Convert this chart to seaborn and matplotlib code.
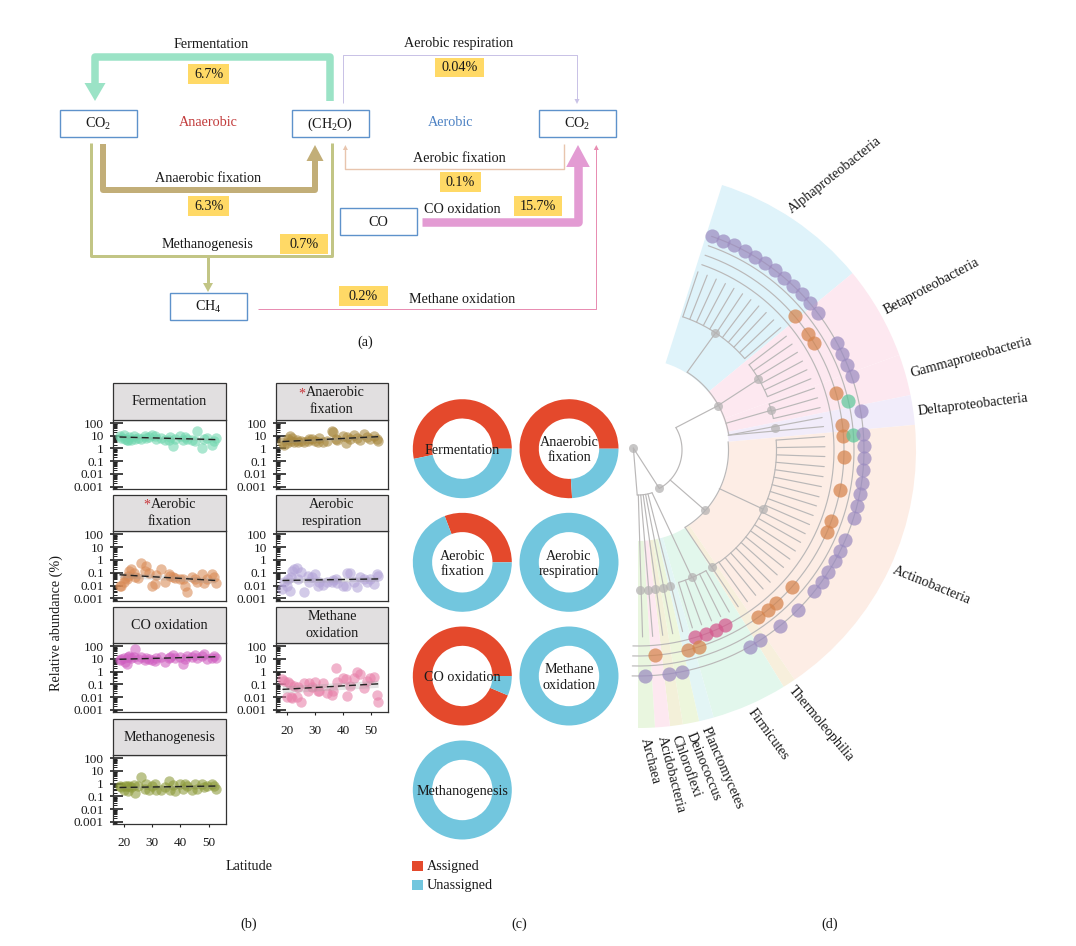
import numpy as np
import pandas as pd
import matplotlib
matplotlib.use("Agg")
import matplotlib.pyplot as plt
from matplotlib.patches import Rectangle
from matplotlib.ticker import FixedLocator, FixedFormatter, LogLocator, NullFormatter
import seaborn as sns

# ---- panel (a) values
flow_names = ["Fermentation", "Aerobic respiration", "Aerobic fixation", "Anaerobic fixation",
              "CO oxidation", "Methanogenesis", "Methane oxidation"]
flow_percent = ["6.7%", "0.04%", "0.1%", "6.3%", "15.7%", "0.7%", "0.2%"]
compounds = ["CO$_2$", "(CH$_2$O)", "CO$_2$", "CO", "CH$_4$"]

# ---- panel (b) values
latitude = [18.5, 19, 20, 20.5, 21, 21.5, 22, 22.5, 23.5, 24, 25, 26, 27.5, 28, 29, 30, 31, 31.5, 33,
            34.5, 36, 36.5, 37.5, 38, 40, 41, 41.5, 42.5, 44, 45, 46, 47.5, 48.5, 49.5, 51, 52, 52.5]
fermentation = [9, 7, 11, 6, 5, 4.5, 8, 5, 9, 6, 7, 6, 10, 7, 8, 12, 9, 6, 7, 5, 5, 8, 1.6, 6, 10, 5,
                8, 6, 5, 4, 22, 1, 6, 7, 2, 4, 7]
anaerobic_fix = [3, 2, 2.5, 6, 10, 4, 7, 3, 5, 3, 4, 3, 4, 6, 6, 4, 3, 7, 3, 4, 22, 18, 6, 5, 9, 2.5,
                 8, 6, 12, 7, 5, 14, 8, 6, 9, 6, 4]
aerobic_fix = [.009, .01, .02, .04, .03, .06, .15, .2, .1, .05, .04, .6, .15, .35, .1, .009, .013, .07,
               .2, .02, .08, .06, .05, .04, .03, .03, .01, .003, .05, .03, .02, .08, .015, .03, .08, .05, .015]
aerobic_resp = [.005, .02, .01, .03, .004, .05, .15, .2, .25, .03, .12, .003, .06, .02, .05, .08, .01,
                .02, .012, .02, .02, .025, .03, .015, .009, .01, .1, .09, .02, .008, .05, .03, .02, .03,
                .013, .08, .06]
co_oxidation = [8, 10, 12, 6, 4, 15, 18, 12, 15, 60, 10, 14, 8, 12, 10, 9, 7, 12, 14, 6, 12, 15, 20, 12,
                15, 4, 10, 18, 14, 22, 12, 16, 25, 10, 12, 18, 12]
methane_ox = [.25, .2, .01, .15, .1, .01, .008, .08, .01, .06, .004, .13, .03, .12, .06, .15, .03, .03,
              .13, .02, .015, .03, 2, .15, .3, .25, .013, .08, .3, 1, .6, .05, .2, .3, .4, .015, .004]
methanogenesis = [.6, .5, .3, .7, .6, .25, .7, .5, .8, .2, .6, 3.5, .4, .9, .3, .7, .9, .3, .3, .5, 1.5,
                  .3, .8, .25, .9, .4, 1, .7, .3, .9, .4, 1, .5, .6, 1, .7, .4]
trend_lat = [18.5, 52.5]
trend_fermentation = [8, 5]
trend_anaerobic = [3.5, 8.5]
trend_aerobic_fix = [.07, .025]
trend_aerobic_resp = [.025, .033]
trend_co = [9.5, 15]
trend_methane_ox = [.04, .11]
trend_methanogenesis = [.5, .65]
y_ticks = [100, 10, 1, 0.1, 0.01, 0.001]
y_tick_labels = ["100", "10", "1", "0.1", "0.01", "0.001"]
x_ticks = [20, 30, 40, 50]

# ---- panel (c) values: percent assigned
donut_names = ["Fermentation", "Anaerobic\nfixation", "Aerobic\nfixation", "Aerobic\nrespiration",
               "CO oxidation", "Methane\noxidation", "Methanogenesis"]
assigned = [53.3, 76, 30.8, 0, 93.6, 0, 0]

# ---- panel (d) values: clades as (start, end) angle in degrees, leaf angles per ring
clade_names = ["Alphaproteobacteria", "Betaproteobacteria", "Gammaproteobacteria", "Deltaproteobacteria",
               "Actinobacteria", "Thermoleophilia", "Firmicutes", "Planctomycetes", "Deinococcus",
               "Chloroflexi", "Acidobacteria", "Archaea"]
clade_from = [72.4, 39.5, 20, 11.4, 5.2, -55.7, -58.4, -74.2, -77.3, -80.7, -83.4, -86.5]
clade_to = [39.5, 20, 11.4, 5.2, -55.7, -58.4, -74.2, -77.3, -80.7, -83.4, -86.5, -90]
purple_leaves = [70.9, 67.9, 64.9, 61.8, 58.8, 55.8, 52.7, 49.7, 46.6, 43.5, 40.5, 37.4, 28.3, 25.2,
                 22.1, 19.1, 10, 4, 1, -2, -5, -8.3, -11.2, -14.3, -17.4, -23.4, -26.5, -29.5, -32.6,
                 -35.6, -38.7, -44.9, -51, -57.3, -60.4, -78.9, -82, -88.3]
orange_leaves = [40.5, 34.4, 31.3, 16.1, 7.1, 4, -2, -11.2, -20.3, -23.5, -41.8, -48, -51, -54.3, -72.8,
                 -75.9, -85.3]
green_leaves = [13.1, 4]
pink_leaves = [-63.5, -66.7, -69.8, -73]
alpha_branches = [71.4, 68.4, 65.4, 62.3, 59.3, 56.2, 53.1, 50, 47, 43.8, 40.6]
beta_branches = [37.5, 34.5, 31.5, 28.4, 25.4, 22.4]
beta2_branches = [19.3, 16.2, 13.1]
delta_branches = [10, 7.2]
actino_branches = [4.1, 1, -2, -5.1, -8.2, -11.3, -14.5, -17.4, -20.5, -23.5, -26.6, -29.6, -32.7, -35.7,
                   -38.9, -41.9, -45, -48, -51, -54.2]
firmi_branches = [-60.6, -63.6, -66.7, -70, -73]
small_branches = [-76.2, -79.3, -82.4, -85.5, -88.6]
inner_node_theta = [29, -42, -61, 158]
inner_node_r = [91, 90, 44, 5]
group_node_theta = [56.5, 30.4, 16.6, 9, -25.3, -57.8, -67.1, -76.7, -79.8, -83, -86, -89.2]
group_node_r = [140, 139.5, 139, 138.7, 138, 138, 138, 140, 140, 140, 140, 140]

sns.set_theme(style="white")
plt.rcParams["font.family"] = "Liberation Serif"
plt.rcParams["mathtext.fontset"] = "custom"
plt.rcParams["mathtext.rm"] = "Liberation Serif"
plt.rcParams["mathtext.default"] = "regular"
TXT = "#1a1a1a"

W, H = 1076, 946
fig = plt.figure(figsize=(W / 100, H / 100), dpi=100)


def px_axes(x0, y0, x1, y1, **kw):
    # axes from pixel box, y counted from the top
    return fig.add_axes([x0 / W, 1 - y1 / H, (x1 - x0) / W, (y1 - y0) / H], **kw)


# ---- panel (d), polar axes with r in pixels
cx, cy, rmax = 638, 450, 290
pol = px_axes(cx - rmax, cy - rmax, cx + rmax, cy + rmax, projection="polar")
pol.set_theta_zero_location("E")
pol.set_ylim(0, rmax)
pol.set_axis_off()

clade_colors = ["#DFF3FA", "#FDE8F0", "#FDE8F0", "#F1ECFA", "#FDEDE5", "#F7EFDC", "#E2F7EC", "#E3F5F5",
                "#EDF6DC", "#F3F0D9", "#FDE8F0", "#E9F6DF"]
for t0, t1, c in zip(clade_from, clade_to, clade_colors):
    pol.bar(np.radians((t0 + t1) / 2), 278 - 91, width=np.radians(t0 - t1), bottom=91, color=c,
            edgecolor="none", linewidth=0, zorder=1)

GR = "#bab8b8"
LW = 0.85


def arc(r, t0, t1):
    th = np.radians(np.linspace(t0, t1, 80))
    pol.plot(th, np.full_like(th, r), color=GR, lw=LW, zorder=2)


def seg(r0, t0, r1, t1):
    pol.plot(np.radians([t0, t1]), [r0, r1], color=GR, lw=LW, zorder=2)


def clade_fan(angles, r0=139, r1=187):
    arc(r0, max(angles), min(angles))
    for t in angles:
        seg(r0, t, r1, t)


# tree skeleton
seg(5, 158, 44, -61)
seg(5, 158, 45, -91)
arc(44, 30.6, -61)
arc(45, -71.8, -91)
seg(44, 30.6, 91, 29)
arc(92, 57.7, 9.5)
arc(90.5, 5.2, -58.7)
seg(44, -43, 90, -42)
seg(92, 57.7, 140, 56.5)
seg(91, 29, 139.5, 30.4)
seg(92, 16.9, 139, 16.6)
seg(90, -25.4, 138, -25.3)
seg(90.5, -58.7, 138, -57.8)
seg(138, -57.8, 186, -57.4)
seg(45, -71.8, 138, -67.1)
clade_fan(alpha_branches, 140.5, 188)
clade_fan(beta_branches, 140)
clade_fan(beta2_branches, 139)
clade_fan(actino_branches, 138.5)
clade_fan(firmi_branches, 138.5, 186)
arc(138, -54.2, -57.8)
for t in delta_branches:
    seg(91.5, 9.3, 187, t)
for t in small_branches:
    seg(45, t - 1, 187, t)
for r_ring in [196, 206, 216, 226]:
    arc(r_ring, 71, -91.5)

nodes = pd.DataFrame({"theta": np.radians(inner_node_theta + group_node_theta),
                      "r": inner_node_r + group_node_r})
sns.scatterplot(data=nodes, x="theta", y="r", ax=pol, color="#b5b3b3", s=42, alpha=0.75, linewidth=0,
                zorder=3, clip_on=False)
for angles, ring, col in [(pink_leaves, 196, "#D4578C"), (orange_leaves, 206, "#D5834C"),
                          (green_leaves, 216, "#5CC79A"), (purple_leaves, 226, "#9B8BC0")]:
    ring_df = pd.DataFrame({"theta": np.radians(angles), "r": ring})
    sns.scatterplot(data=ring_df, x="theta", y="r", ax=pol, color=col, s=104, alpha=0.72, linewidth=0,
                    zorder=4)
pol.set_xlabel("")
pol.set_ylabel("")
pol.set_rlim(0, rmax)

# ---- panel (b)
panels = [
    ("Fermentation", fermentation, trend_fermentation, 1.2, "#6FD6AE", (113, 419.7, 225.7, 489), False),
    ("Anaerobic\nfixation", anaerobic_fix, trend_anaerobic, 1.3, "#A8883F", (276, 419.7, 388, 489), False),
    ("Aerobic\nfixation", aerobic_fix, trend_aerobic_fix, 1.6, "#D98A55", (113, 531, 225.7, 600.7), False),
    ("Aerobic\nrespiration", aerobic_resp, trend_aerobic_resp, 1.5, "#B3A4D8", (276, 531, 388, 600.7), False),
    ("CO oxidation", co_oxidation, trend_co, 1.15, "#CF5FC0", (113, 643, 225.7, 712), False),
    ("Methane\noxidation", methane_ox, trend_methane_ox, 1.9, "#E77FA8", (276, 643, 388, 712), True),
    ("Methanogenesis", methanogenesis, trend_methanogenesis, 1.25, "#8C9A3A", (113, 755, 225.7, 824), True),
]
strips = []
for name, vals, trend, band, col, box, show_x in panels:
    ax = px_axes(*box)
    df = pd.DataFrame({"lat": latitude, "abund": vals})
    sns.scatterplot(data=df, x="lat", y="abund", ax=ax, color=col, s=56, alpha=0.58, linewidth=0, clip_on=False)
    ax.set_yscale("log")
    ax.fill_between(trend_lat, [v / band for v in trend], [v * band for v in trend], color="#999999",
                    alpha=0.25, linewidth=0)
    sns.lineplot(x=trend_lat, y=trend, ax=ax, color="#222222", lw=1.0, linestyle=(0, (5, 3)), errorbar=None)
    ax.set_xlim(16.2, 56)
    ax.set_ylim(0.00066, 182)
    ax.yaxis.set_major_locator(FixedLocator(y_ticks))
    ax.yaxis.set_major_formatter(FixedFormatter(y_tick_labels))
    ax.yaxis.set_minor_locator(LogLocator(base=10, subs=np.arange(2, 10), numticks=12))
    ax.yaxis.set_minor_formatter(NullFormatter())
    # long inner major ticks with a short stub outside
    ax.tick_params(axis="y", which="major", left=True, direction="in", length=7, width=1.1, color="#111111",
                   labelsize=9.5, pad=6.5, labelcolor=TXT)
    ax.tick_params(axis="y", which="minor", left=True, direction="in", length=3, width=0.7, color="#222222")
    stub = ax.secondary_yaxis("left")
    stub.yaxis.set_major_locator(FixedLocator(y_ticks))
    stub.yaxis.set_minor_locator(FixedLocator([]))
    stub.tick_params(axis="y", which="major", direction="out", length=2.2, width=1.1, color="#111111",
                     labelleft=False)
    stub.spines["left"].set_visible(False)
    ax.set_xticks(x_ticks)
    if show_x:
        ax.tick_params(axis="x", which="major", bottom=True, direction="out", length=2.5, width=0.8,
                       color="#222222", labelsize=9.5, pad=7, labelcolor=TXT)
    else:
        ax.tick_params(axis="x", bottom=False, labelbottom=False)
    ax.set_xlabel("")
    ax.set_ylabel("")
    for s in ax.spines.values():
        s.set_color("#333333")
        s.set_linewidth(0.9)
    strips.append((name, box))

# ---- panel (c)
donut_colors = ["#E4492C", "#72C6DE"]
donut_centers = [(462.3, 448.7), (569, 448.7), (462.3, 562.3), (569, 562.3), (462.3, 676), (569, 676),
                 (462.3, 790)]
for a, (dx, dy), name in zip(assigned, donut_centers, donut_names):
    ax = px_axes(dx - 49.5, dy - 49.5, dx + 49.5, dy + 49.5)
    ax.pie([a, 100 - a], colors=donut_colors, startangle=0, counterclock=True, radius=1,
           wedgeprops=dict(width=0.39, linewidth=0))
    ax.set_xlim(-1, 1)
    ax.set_ylim(-1, 1)
    ax.text(0, -0.03, name, ha="center", va="center", fontsize=10.2, color=TXT, linespacing=1.22)

# ---- overlay in pixel coordinates: panel (a), strips, labels
ov = fig.add_axes([0, 0, 1, 1], zorder=10)
ov.set_xlim(0, W)
ov.set_ylim(H, 0)
ov.axis("off")
ov.patch.set_alpha(0)


def T(x, y, s, size=10.2, color=TXT, rot=0, **kw):
    ov.text(x, y + 1, s, fontsize=size, color=color, rotation=rot, rotation_mode="anchor",
            ha=kw.pop("ha", "center"), va=kw.pop("va", "center"), **kw)


def flow(xs, ys, col, width):
    ov.plot(xs, ys, color=col, lw=width * 0.72, solid_capstyle="butt", solid_joinstyle="round", zorder=2)


def head(x, y0, y1, half, col):
    # triangular head pointing vertically from y0 to the tip at y1
    ov.fill([x - half, x + half, x], [y0, y0, y1], color=col, linewidth=0, zorder=3)


# flows
flow([330, 330, 95, 95], [101, 57, 57, 84], "#9BE3C6", 7.5)
head(95, 83, 101, 10.5, "#9BE3C6")
flow([343.4, 343.4, 577, 577], [103, 55, 55, 100], "#C9C2E6", 1)
head(577, 99, 104, 2.5, "#C9C2E6")
flow([102.5, 102.5, 315, 315], [144, 190, 190, 160], "#C2AE78", 6)
head(315, 161, 145, 8.5, "#C2AE78")
flow([91, 91, 332, 332], [143, 256, 256, 143], "#C2C585", 3)
flow([208, 208], [256, 284], "#C2C585", 3)
head(208, 283, 292, 5, "#C2C585")
flow([563.8, 563.8, 345.4, 345.4], [144, 169, 169, 149], "#E8C5AE", 1.4)
head(345.4, 150, 145, 2.5, "#E8C5AE")
flow([422, 578, 578], [221.7, 221.7, 166], "#E39BD3", 8.5)
head(578, 167, 145, 11.8, "#E39BD3")
flow([258, 596.3, 596.3], [309, 309, 149], "#E88DB2", 1)
head(596.3, 150, 145, 2.5, "#E88DB2")

# compound boxes
box_pos = [(60, 109.7), (292, 109.7), (539, 109.7), (339.6, 208.3), (169.5, 292.7)]
for (bx, by), name in zip(box_pos, compounds):
    ov.add_patch(Rectangle((bx, by), 77, 27, fc="white", ec="#5E92CB", lw=1, zorder=4))
    T(bx + 38.5, by + 13.5, name, zorder=5)

# percent tags
tag_box = [(188.3, 64, 40.6), (435.4, 57.7, 49), (439.6, 172, 41.8), (188.3, 196, 40.6), (513.6, 196, 48.2),
           (279.5, 234, 48.5), (339.2, 286, 48.8)]
for (tx, ty, tw), pct in zip(tag_box, flow_percent):
    ov.add_patch(Rectangle((tx, ty), tw, 19.7, fc="#FFD966", ec="none", zorder=4))
    T(tx + tw / 2, ty + 9, pct, zorder=5)

# flow labels
name_pos = [(211, 43), (459, 43), (459, 158), (208, 178), (462, 208), (208, 243), (462, 298)]
for (nx, ny), name in zip(name_pos, flow_names):
    T(nx, ny, name)
T(208, 122, "Anaerobic", color="#C23B3B")
T(451, 122, "Aerobic", color="#4D82C4")
T(365, 341, "(a)")

# strips of panel (b); the starred first lines sit a little to the right
star_shift = {"Anaerobic\nfixation": 3.5, "Aerobic\nfixation": 4}
for name, (x0, y0, x1, y1) in strips:
    ov.add_patch(Rectangle((x0, y0 - 36.5), x1 - x0, 36.5, fc="#E1DFE0", ec="#333333", lw=0.9, zorder=4))
    mid = (x0 + x1) / 2
    lines = name.split("\n")
    if len(lines) == 1:
        T(mid, y0 - 19, name, zorder=5)
    else:
        T(mid + star_shift.get(name, 0), y0 - 28, lines[0], zorder=5)
        T(mid, y0 - 11, lines[1], zorder=5)
T(302.3, 393.5, "*", color="#C8353A", size=10, zorder=6)
T(147.3, 504.5, "*", color="#C8353A", size=10, zorder=6)
T(56, 622, "Relative abundance (%)", rot=90)
T(249, 865, "Latitude")
T(249, 923, "(b)")

# legend of panel (c)
for ly, label, col in [(865.5, "Assigned", donut_colors[0]), (884.5, "Unassigned", donut_colors[1])]:
    ov.add_patch(Rectangle((412, ly - 5), 10.5, 10.5, fc=col, ec="none"))
    T(427, ly, label, ha="left")
T(519, 923, "(c)")

# clade labels
clade_label_pos = [(835, 174.3, 38.5), (931.7, 285, 28), (970.7, 356, 15.3), (972.7, 403.3, 7), (932, 584, -22),
                   (820.7, 723, -50), (768, 733, -54), (722, 766.7, -66.5), (703, 765.7, -68), (686, 765, -70),
                   (671, 773.3, -75.5), (650, 760, -75.6)]
for (lx, ly, rot), name in zip(clade_label_pos, clade_names):
    T(lx, ly, name, rot=rot)
T(830, 923, "(d)")

fig.savefig("out.png", dpi=100)
